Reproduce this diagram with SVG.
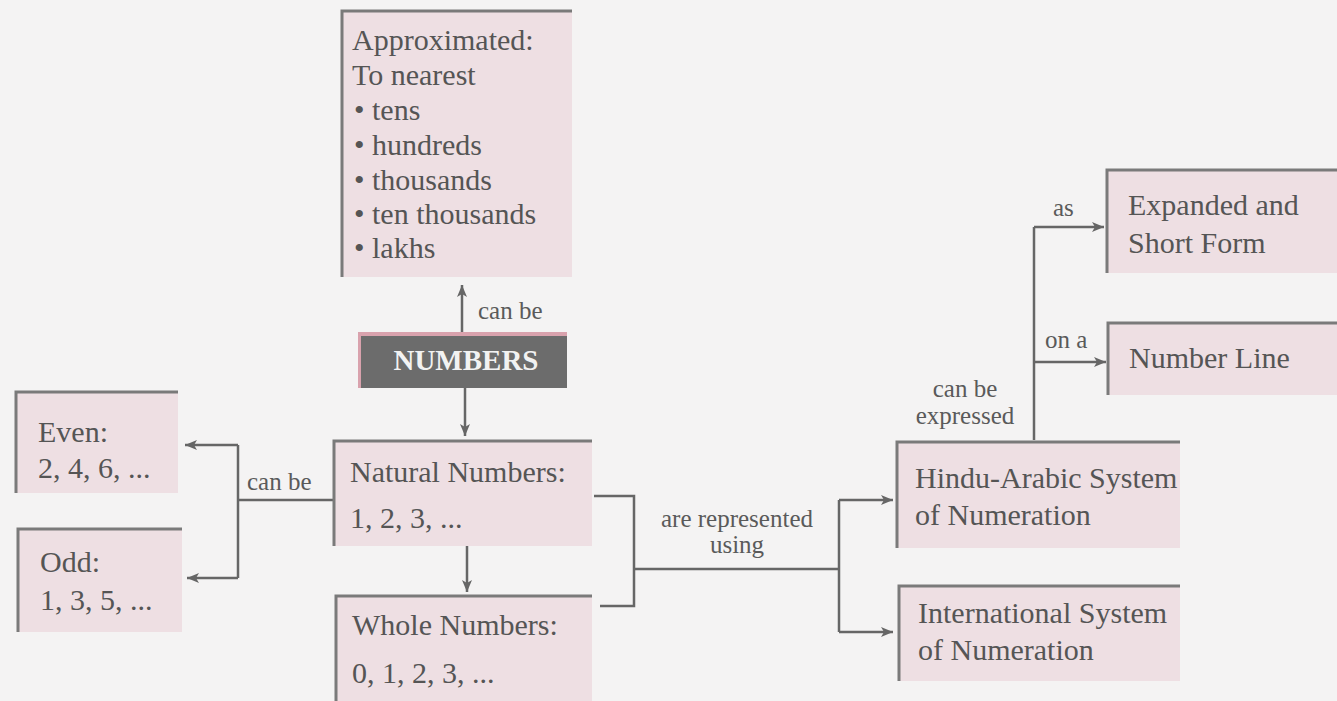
<svg xmlns="http://www.w3.org/2000/svg" width="1337" height="701" viewBox="0 0 1337 701">
<defs>
<style>
.bg{fill:#f4f3f3}
.box{fill:#eedfe3}
.edge{stroke:#7a7a7a;stroke-width:3;fill:none}
.t{font-size:30px;fill:#555}
.lbl{font-size:25px;fill:#5a5a5a}
.c{stroke:#666;stroke-width:2.5;fill:none}
</style>
<marker id="ahb" viewBox="0 0 12 10" refX="12" refY="5" markerWidth="12" markerHeight="10" markerUnits="userSpaceOnUse" orient="auto">
<path d="M0,0 L12,5 L0,10 L3,5 z" fill="#666"/>
</marker>
</defs>
<rect class="bg" x="0" y="0" width="1337" height="701"/>
<g font-family="'Liberation Serif', 'Times New Roman', serif">
<g id="connectors">
<path class="c" d="M462,332 L462,285" marker-end="url(#ahb)"/>
<path class="c" d="M465,388 L465,436" marker-end="url(#ahb)"/>
<path class="c" d="M467,546 L467,592" marker-end="url(#ahb)"/>
<path class="c" d="M333,500 L238,500"/>
<path class="c" d="M238,445 L238,578"/>
<path class="c" d="M238,445 L185,445" marker-end="url(#ahb)"/>
<path class="c" d="M238,578 L187,578" marker-end="url(#ahb)"/>
<path class="c" d="M594,496 L634,496 L634,606 L600,606"/>
<path class="c" d="M634,569 L839,569"/>
<path class="c" d="M839,500 L839,632"/>
<path class="c" d="M839,500 L893,500" marker-end="url(#ahb)"/>
<path class="c" d="M839,632 L893,632" marker-end="url(#ahb)"/>
<path class="c" d="M1034,440 L1034,227"/>
<path class="c" d="M1034,227 L1104,227" marker-end="url(#ahb)"/>
<path class="c" d="M1034,362 L1106,362" marker-end="url(#ahb)"/>
<text class="lbl" x="478" y="319">can be</text>
<text class="lbl" x="247" y="490">can be</text>
<text class="lbl" x="737" y="527" text-anchor="middle">are represented</text>
<text class="lbl" x="737" y="553" text-anchor="middle">using</text>
<text class="lbl" x="965" y="397" text-anchor="middle">can be</text>
<text class="lbl" x="965" y="424" text-anchor="middle">expressed</text>
<text class="lbl" x="1053" y="216">as</text>
<text class="lbl" x="1045" y="348">on a</text>
</g>

<g id="approximated">
<rect class="box" x="342" y="11" width="230" height="266"/>
<path class="edge" d="M342,277 L342,11 L572,11"/>
<text class="t" x="352" y="50">Approximated:</text>
<text class="t" x="352" y="85">To nearest</text>
<text class="t" x="354" y="120">• tens</text>
<text class="t" x="354" y="155">• hundreds</text>
<text class="t" x="354" y="190">• thousands</text>
<text class="t" x="354" y="224">• ten thousands</text>
<text class="t" x="354" y="258">• lakhs</text>
</g>

<g id="numbers">
<rect x="358" y="332" width="209" height="56" fill="#d9a2ad"/>
<rect x="361" y="336" width="206" height="52" fill="#6c6c6c"/>
<text x="466" y="370" text-anchor="middle" font-size="29" font-weight="bold" fill="#f2f2f2">NUMBERS</text>
</g>

<g id="even">
<rect class="box" x="16" y="392" width="162" height="101"/>
<path class="edge" d="M16,493 L16,392 L178,392"/>
<text class="t" x="38" y="442">Even:</text>
<text class="t" x="38" y="478">2, 4, 6, ...</text>
</g>

<g id="odd">
<rect class="box" x="18" y="529" width="164" height="103"/>
<path class="edge" d="M18,632 L18,529 L182,529"/>
<text class="t" x="40" y="572">Odd:</text>
<text class="t" x="40" y="610">1, 3, 5, ...</text>
</g>

<g id="natural">
<rect class="box" x="334" y="441" width="258" height="105"/>
<path class="edge" d="M334,546 L334,441 L592,441"/>
<text class="t" x="350" y="482">Natural Numbers:</text>
<text class="t" x="350" y="528">1, 2, 3, ...</text>
</g>

<g id="whole">
<rect class="box" x="336" y="596" width="256" height="105"/>
<path class="edge" d="M336,701 L336,596 L592,596"/>
<text class="t" x="352" y="635">Whole Numbers:</text>
<text class="t" x="352" y="683">0, 1, 2, 3, ...</text>
</g>

<g id="hindu">
<rect class="box" x="897" y="442" width="283" height="106"/>
<path class="edge" d="M897,548 L897,442 L1180,442"/>
<text class="t" x="915" y="488" font-size="29">Hindu-Arabic System</text>
<text class="t" x="915" y="525" font-size="29">of Numeration</text>
</g>

<g id="international">
<rect class="box" x="899" y="586" width="281" height="95"/>
<path class="edge" d="M899,681 L899,586 L1180,586"/>
<text class="t" x="918" y="623" font-size="29">International System</text>
<text class="t" x="918" y="660" font-size="29">of Numeration</text>
</g>

<g id="expanded">
<rect class="box" x="1107" y="170" width="230" height="103"/>
<path class="edge" d="M1107,273 L1107,170 L1337,170"/>
<text class="t" x="1128" y="215">Expanded and</text>
<text class="t" x="1128" y="253">Short Form</text>
</g>

<g id="numberline">
<rect class="box" x="1108" y="323" width="229" height="72"/>
<path class="edge" d="M1108,395 L1108,323 L1337,323"/>
<text class="t" x="1129" y="368">Number Line</text>
</g>
</g>
</svg>
